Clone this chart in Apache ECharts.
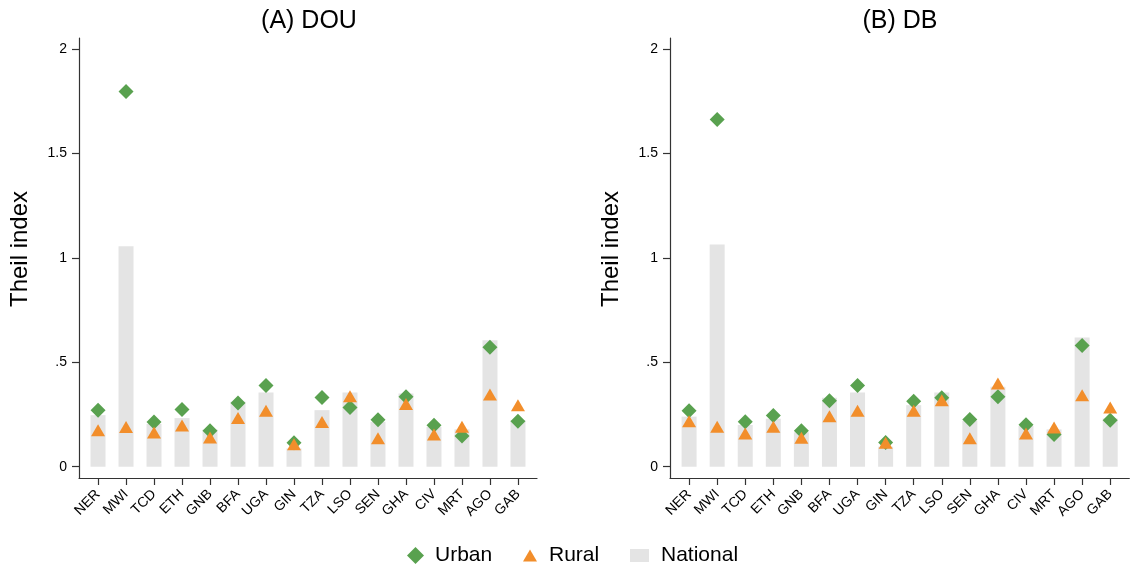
<!DOCTYPE html>
<html>
<head>
<meta charset="utf-8">
<script src="https://cdn.jsdelivr.net/npm/echarts@6/dist/echarts.min.js"></script>
<style>html,body{margin:0;padding:0;background:#fff;}#chart{width:1132px;height:572px;}</style>
</head>
<body>
<div id="chart"></div>
<script>
const categories = ['NER','MWI','TCD','ETH','GNB','BFA','UGA','GIN','TZA','LSO','SEN','GHA','CIV','MRT','AGO','GAB'];
const yTicks = [0, 0.5, 1, 1.5, 2];
const yTickLabels = ['0', '.5', '1', '1.5', '2'];
const panelTitles = ['(A) DOU', '(B) DB'];

const nationalA = [0.247, 1.056, 0.205, 0.233, 0.178, 0.311, 0.356, 0.088, 0.271, 0.356, 0.215, 0.351, 0.190, 0.179, 0.606, 0.223];
const urbanA    = [0.271, 1.798, 0.214, 0.274, 0.172, 0.305, 0.389, 0.115, 0.332, 0.284, 0.225, 0.335, 0.199, 0.147, 0.573, 0.218];
const ruralA    = [0.175, 0.190, 0.164, 0.198, 0.140, 0.234, 0.268, 0.108, 0.214, 0.338, 0.136, 0.300, 0.155, 0.191, 0.346, 0.295];

const nationalB = [0.240, 1.065, 0.200, 0.230, 0.165, 0.330, 0.356, 0.096, 0.295, 0.356, 0.220, 0.383, 0.195, 0.179, 0.619, 0.231];
const urbanB    = [0.268, 1.664, 0.215, 0.246, 0.172, 0.316, 0.389, 0.116, 0.314, 0.330, 0.226, 0.335, 0.201, 0.155, 0.581, 0.223];
const ruralB    = [0.218, 0.191, 0.159, 0.191, 0.139, 0.242, 0.268, 0.115, 0.268, 0.319, 0.136, 0.399, 0.159, 0.188, 0.343, 0.284];

const GREEN = '#59a14f', ORANGE = '#f28e2b', GRAY = '#e4e4e4';
const FONT = 'Liberation Sans, Arial, Helvetica, sans-serif';
const AXIS_COLOR = '#333';
const CLEAR = 'rgba(0,0,0,0)';
const pts = arr => arr.map((v, i) => [i, v]);

const bounds = { left: -200, right: -200, top: -200, bottom: -200 };
// per panel: data grid (frame + marks), x-tick grid (country ticks/labels), y-tick grid (0..2 ticks/labels)
const grids = [
  { left: 79, top: 38, width: 458, height: 440, outerBounds: bounds },
  { left: 84.04, top: 49.27, width: 448, height: 428.73, outerBounds: bounds },
  { left: 79, top: 49.27, width: 458, height: 417.46, outerBounds: bounds },
  { left: 670, top: 38, width: 459.3, height: 440, outerBounds: bounds },
  { left: 675.05, top: 49.27, width: 449.2, height: 428.73, outerBounds: bounds },
  { left: 670, top: 49.27, width: 459.3, height: 417.46, outerBounds: bounds }
];

function dataX(gi) {
  return { type: 'value', gridIndex: gi, min: -0.68, max: 15.68,
    axisLine: { show: true, onZero: false, lineStyle: { color: AXIS_COLOR, width: 1.2 } },
    axisTick: { show: false }, axisLabel: { show: false }, splitLine: { show: false } };
}
function dataY(gi) {
  return { type: 'value', gridIndex: gi, min: -0.054, max: 2.054,
    axisLine: { show: true, onZero: false, lineStyle: { color: AXIS_COLOR, width: 1.2 } },
    axisTick: { show: false }, axisLabel: { show: false }, splitLine: { show: false } };
}
function tickX(gi) {
  return { type: 'category', gridIndex: gi, data: categories, boundaryGap: true,
    axisLine: { show: true, onZero: false, lineStyle: { color: CLEAR, width: 1 } },
    axisTick: { show: true, alignWithLabel: true, interval: 0, length: 7, lineStyle: { color: AXIS_COLOR, width: 1.2 } },
    axisLabel: { interval: 0, rotate: 45, margin: 14, fontSize: 14, color: '#000', fontFamily: FONT },
    splitLine: { show: false } };
}
function tickY(gi) {
  return { type: 'value', gridIndex: gi, min: 0, max: 2, interval: 0.5,
    name: 'Theil index', nameLocation: 'middle', nameGap: 47, nameMoveOverlap: false,
    nameTextStyle: { fontSize: 24, color: '#000', fontFamily: FONT, padding: [0, 0, 0, 18] },
    axisLine: { show: true, onZero: false, lineStyle: { color: CLEAR, width: 1 } },
    axisTick: { show: true, length: 7, lineStyle: { color: AXIS_COLOR, width: 1.2 } },
    axisLabel: { margin: 12, fontSize: 14, color: '#000', fontFamily: FONT,
                 formatter: v => yTickLabels[yTicks.findIndex(t => Math.abs(t - v) < 1e-6)] },
    splitLine: { show: false } };
}
function hidden(gi) {
  return { type: 'value', gridIndex: gi, min: 0, max: 1, show: false };
}
function series(ai, nat, urb, rur) {
  return [
    { name: 'National', type: 'bar', xAxisIndex: ai, yAxisIndex: ai, barWidth: 15, data: pts(nat),
      itemStyle: { color: GRAY }, silent: true, z: 1 },
    { name: 'Urban', type: 'scatter', xAxisIndex: ai, yAxisIndex: ai, symbol: 'diamond', symbolSize: [15, 15],
      data: pts(urb), itemStyle: { color: GREEN, opacity: 1 }, z: 3 },
    { name: 'Rural', type: 'scatter', xAxisIndex: ai, yAxisIndex: ai, symbol: 'triangle', symbolSize: [14, 12],
      data: pts(rur), itemStyle: { color: ORANGE, opacity: 1 }, z: 4 }
  ];
}

const chart = echarts.init(document.getElementById('chart'), null, { renderer: 'canvas' });
chart.setOption({
  animation: false,
  backgroundColor: '#fff',
  textStyle: { fontFamily: FONT },
  title: [
    { text: panelTitles[0], left: 304, top: 4, textAlign: 'center',
      textStyle: { fontSize: 25, fontWeight: 'normal', color: '#000', fontFamily: FONT } },
    { text: panelTitles[1], left: 895, top: 4, textAlign: 'center',
      textStyle: { fontSize: 25, fontWeight: 'normal', color: '#000', fontFamily: FONT } }
  ],
  grid: grids,
  xAxis: [dataX(0), tickX(1), hidden(2), dataX(3), tickX(4), hidden(5)],
  yAxis: [dataY(0), hidden(1), tickY(2), dataY(3), hidden(4), tickY(5)],
  legend: [
    { data: [{ name: 'Urban', icon: 'diamond' }], left: 402, top: 540, itemWidth: 17, itemHeight: 17,
      textStyle: { fontSize: 21, color: '#000', fontFamily: FONT, padding: [0, 0, 0, 6] }, selectedMode: false },
    { data: [{ name: 'Rural', icon: 'triangle' }], left: 518, top: 540, itemWidth: 14, itemHeight: 12,
      textStyle: { fontSize: 21, color: '#000', fontFamily: FONT, padding: [0, 0, 0, 7] }, selectedMode: false },
    { data: [{ name: 'National', icon: 'rect' }], left: 625, top: 540, itemWidth: 19, itemHeight: 13,
      textStyle: { fontSize: 21, color: '#000', fontFamily: FONT, padding: [0, 0, 0, 7] }, selectedMode: false }
  ],
  series: [].concat(series(0, nationalA, urbanA, ruralA), series(3, nationalB, urbanB, ruralB))
});
</script>
</body>
</html>
